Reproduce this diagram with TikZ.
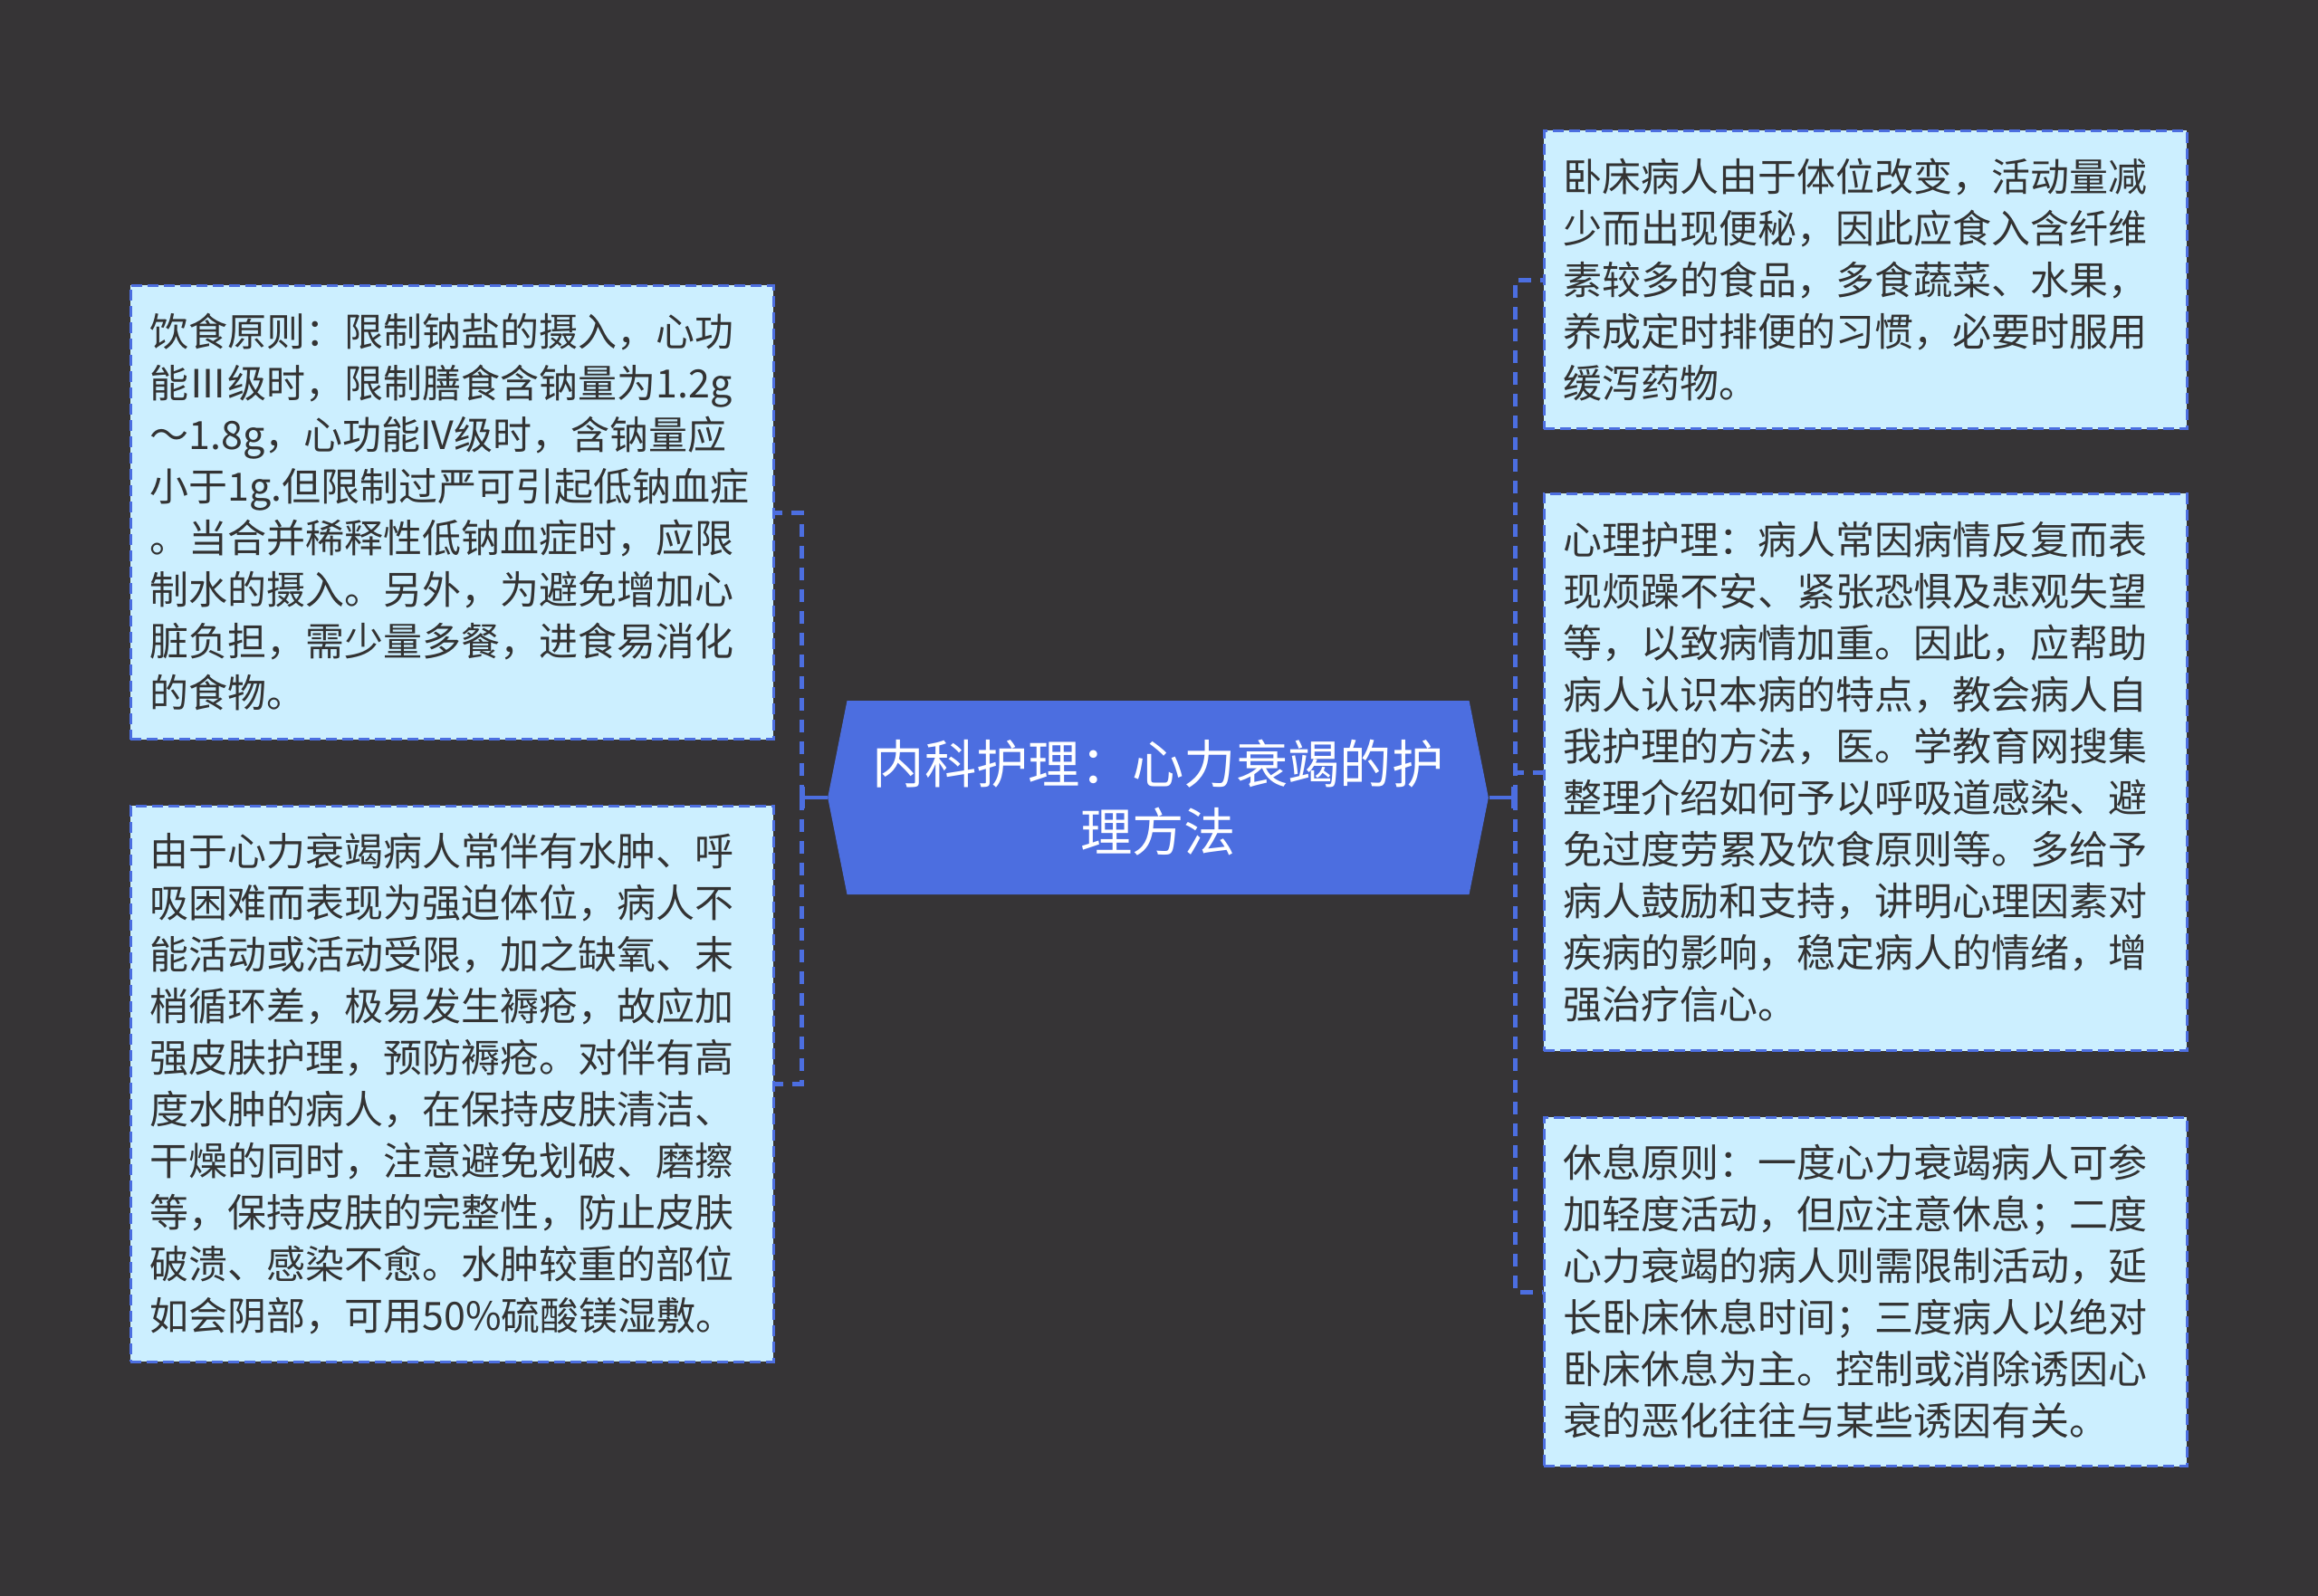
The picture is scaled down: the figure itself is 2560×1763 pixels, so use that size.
\documentclass[tikz,border=0pt]{standalone}
\usepackage{fontspec}
\setmainfont{Noto Sans CJK SC}
\usetikzlibrary{arrows.meta}
\definecolor{bgdark}{RGB}{54,52,54}
\definecolor{leafcyan}{RGB}{204,239,255}
\definecolor{linkblue}{RGB}{76,110,224}
\definecolor{inkgray}{RGB}{51,51,51}

\begin{document}
\begin{tikzpicture}[x=0.3pt, y=-0.3pt,
    leaf/.style={draw=linkblue, fill=leafcyan, line width=0.9pt, dash pattern=on 3.6pt off 1.8pt,
      text=inkgray, inner xsep=6.4pt, inner ysep=0pt, text width=200.2pt, align=left,
      font=\fontsize{12.9pt}{17.1pt}\selectfont},
    hub/.style={minimum width=218.9pt, minimum height=64.2pt, inner sep=0pt, text=white, align=center,
      font=\fontsize{17.2pt}{22.5pt}\selectfont,
      path picture={\fill[linkblue] ([xshift=6.4pt]path picture bounding box.north west)
        -- ([xshift=-6.4pt]path picture bounding box.north east) -- (path picture bounding box.east)
        -- ([xshift=-6.4pt]path picture bounding box.south east)
        -- ([xshift=6.4pt]path picture bounding box.south west) -- (path picture bounding box.west) -- cycle;}},
    link/.style={draw=linkblue, line width=1.5pt, dash pattern=on 4.2pt off 3pt},
    stub/.style={draw=linkblue, line width=1.2pt, -{Bar[width=7pt]}}]
  \useasboundingbox (0,0) rectangle (2560,1763);
  \fill[bgdark] (0,0) rectangle (2560,1763);

  \node[hub] (hub) at (1279,881) {内科护理：心力衰竭的护\\理方法};

  \node[leaf, minimum height=150.4pt] (diet) at (499,566) {饮食原则：限制钠盐的摄入，心功\\
    能Ⅲ级时，限制膳食含钠量为1.2g\\
    ～1.8g，心功能IV级时，含钠量应\\
    小于1g.但限制过严可引起低钠血症\\
    。当合并稀释性低钠血症时，应限\\
    制水的摄入。另外，为避免增加心\\
    脏负担，需少量多餐，进食易消化\\
    的食物。};
  \node[leaf, minimum height=184.2pt] (skin) at (499,1197) {由于心力衰竭病人常伴有水肿、呼\\
    吸困难而表现为强迫体位，病人不\\
    能活动或活动受限，加之缺氧、末\\
    梢循环差，极易发生褥疮，故应加\\
    强皮肤护理，预防褥疮。对伴有高\\
    度水肿的病人，在保持皮肤清洁、\\
    干燥的同时，注意避免划破、磨擦\\
    等，保持皮肤的完整性，防止皮肤\\
    破溃、感染不愈。水肿较重的部位\\
    如会阴部，可用50\%硫酸镁湿敷。};

  \node[leaf, minimum height=98.9pt] (bowel) at (2060,309) {卧床病人由于体位改变，活动量减\\
    少而出现便秘，因此应食入含纤维\\
    素较多的食品，多食蔬菜、水果，\\
    养成定时排便的习惯，必要时服用\\
    缓泻药物。};
  \node[leaf, minimum height=184.6pt] (mind) at (2060,853) {心理护理：病人常因病情反复而表\\
    现烦躁不安、紧张恐惧及悲观失望\\
    等，以致病情加重。因此，应帮助\\
    病人认识本病的特点，教会病人自\\
    我护理的方法，医。学教育网搜集\\
    整理介绍如何予以呼吸道感染、避\\
    免过度劳累及饮食原则等。多给予\\
    病人鼓励和支持，讲明心理因素对\\
    疾病的影响，稳定病人的情绪，增\\
    强治疗信心。};
  \node[leaf, minimum height=115.6pt] (rest) at (2060,1427) {休息原则：一度心力衰竭病人可参\\
    加轻度活动，但应注意休息；二度\\
    心力衰竭的病人则需限制活动，延\\
    长卧床休息时间；三度病人以绝对\\
    卧床休息为主。控制或消除诱因心\\
    衰的恶化往往与某些诱因有关。};

  \coordinate (lj) at (885,881);
  \coordinate (rj) at (1673,881);
  \draw[stub] (hub.west) -- (lj);
  \draw[stub] (hub.east) -- (rj);
  \draw[link] (lj) |- (diet.east);
  \draw[link] (lj) |- (skin.east);
  \draw[link] (rj) |- (bowel.west);
  \draw[link] (rj) |- (mind.west);
  \draw[link] (rj) |- (rest.west);
\end{tikzpicture}
\end{document}
